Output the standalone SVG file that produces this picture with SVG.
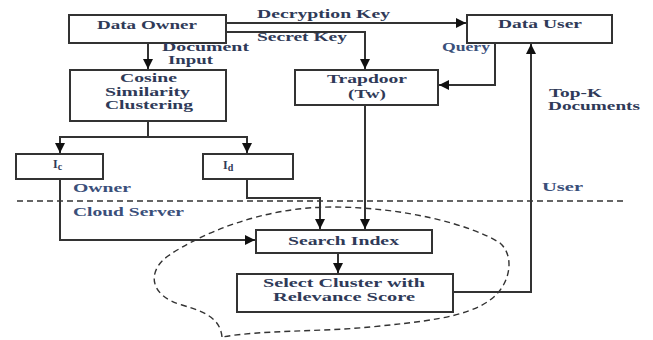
<svg xmlns="http://www.w3.org/2000/svg" width="653" height="340" viewBox="0 0 653 340">
<defs>
<style>
.box{fill:#fff;stroke:#333;stroke-width:2}
.t{font-family:"Liberation Serif","Times New Roman",serif;font-weight:bold;font-size:12px;fill:#2f3a58}
.lbl{fill:#3a4f7a}
.c{fill:none;stroke:#333;stroke-width:2}
.d{fill:none;stroke:#333;stroke-width:1.4;stroke-dasharray:6,4}
</style>
<marker id="ah" viewBox="0 0 10 10" refX="10" refY="5" markerWidth="10" markerHeight="10" markerUnits="userSpaceOnUse" orient="auto">
<path d="M0,0 L10,5 L0,10 Z" fill="#111"/>
</marker>
</defs>
<rect width="653" height="340" fill="#fff"/>

<g id="boundaries">
<path class="d" d="M17,201 H623"/>
<path class="d" d="M222,337 C220,318 205,312 182,305 C150,296 146,272 168,256 C200,234 262,207 332,207 C402,207 470,224 500,243 C515,256 511,285 490,300 C466,318 420,322 370,327 C318,332 262,330 222,337 Z"/>
</g>

<g id="connectors">
<path class="c" d="M226,23 H466" marker-end="url(#ah)"/>
<path class="c" d="M226,32 H365 V69" marker-end="url(#ah)"/>
<path class="c" d="M495,43 V85 H439" marker-end="url(#ah)"/>
<path class="c" d="M148,43 V69" marker-end="url(#ah)"/>
<path class="c" d="M148,121 V137 H60 V153" marker-end="url(#ah)"/>
<path class="c" d="M148,137 H247 V153" marker-end="url(#ah)"/>
<path class="c" d="M60,179 V240 H255" marker-end="url(#ah)"/>
<path class="c" d="M247,179 V198 H320 V229" marker-end="url(#ah)"/>
<path class="c" d="M365,105 V229" marker-end="url(#ah)"/>
<path class="c" d="M338,253 V273" marker-end="url(#ah)"/>
<path class="c" d="M453,292 H531 V44" marker-end="url(#ah)"/>
</g>

<g id="data-owner">
<rect class="box" x="69" y="15" width="157" height="28"/>
<text class="t" x="97" y="29" textLength="100" lengthAdjust="spacingAndGlyphs">Data Owner</text>
</g>
<g id="data-user">
<rect class="box" x="467" y="15" width="145" height="28"/>
<text class="t" x="498" y="28" textLength="84" lengthAdjust="spacingAndGlyphs">Data User</text>
</g>
<g id="cosine">
<rect class="box" x="70" y="70" width="156" height="51"/>
<text class="t" x="120" y="82" textLength="57" lengthAdjust="spacingAndGlyphs">Cosine</text>
<text class="t" x="105" y="95.5" textLength="85" lengthAdjust="spacingAndGlyphs">Similarity</text>
<text class="t" x="105" y="109" textLength="88" lengthAdjust="spacingAndGlyphs">Clustering</text>
</g>
<g id="trapdoor">
<rect class="box" x="295" y="70" width="143" height="35"/>
<text class="t" x="327" y="83" textLength="80" lengthAdjust="spacingAndGlyphs">Trapdoor</text>
<text class="t" x="348" y="98" textLength="38" lengthAdjust="spacingAndGlyphs">(Tw)</text>
</g>
<g id="ic">
<rect class="box" x="16" y="154" width="87" height="25"/>
<text class="t" x="53" y="168">I<tspan font-size="10" dy="2">c</tspan></text>
</g>
<g id="id">
<rect class="box" x="203" y="154" width="90" height="25"/>
<text class="t" x="223" y="169">I<tspan font-size="10" dy="2">d</tspan></text>
</g>
<g id="search-index">
<rect class="box" x="256" y="230" width="176" height="23"/>
<text class="t" x="288" y="245" textLength="111" lengthAdjust="spacingAndGlyphs">Search Index</text>
</g>
<g id="select-cluster">
<rect class="box" x="237" y="274" width="216" height="38"/>
<text class="t" x="263" y="287" textLength="162" lengthAdjust="spacingAndGlyphs">Select Cluster with</text>
<text class="t" x="273" y="301" textLength="142" lengthAdjust="spacingAndGlyphs">Relevance Score</text>
</g>

<g id="labels">
<text class="t" x="257" y="18" textLength="133" lengthAdjust="spacingAndGlyphs">Decryption Key</text>
<text class="t" x="257" y="41" textLength="90" lengthAdjust="spacingAndGlyphs">Secret Key</text>
<text class="t" x="162" y="51" textLength="87" lengthAdjust="spacingAndGlyphs">Document</text>
<text class="t" x="168" y="64" textLength="45" lengthAdjust="spacingAndGlyphs">Input</text>
<text class="t lbl" x="442" y="51" textLength="48" lengthAdjust="spacingAndGlyphs">Query</text>
<text class="t" x="549" y="97" textLength="53" lengthAdjust="spacingAndGlyphs">Top-K</text>
<text class="t" x="548" y="110" textLength="92" lengthAdjust="spacingAndGlyphs">Documents</text>
<text class="t lbl" x="542" y="191" textLength="41" lengthAdjust="spacingAndGlyphs">User</text>
<text class="t lbl" x="73" y="192" textLength="58" lengthAdjust="spacingAndGlyphs">Owner</text>
<text class="t lbl" x="73" y="216" textLength="111" lengthAdjust="spacingAndGlyphs">Cloud Server</text>
</g>
</svg>
